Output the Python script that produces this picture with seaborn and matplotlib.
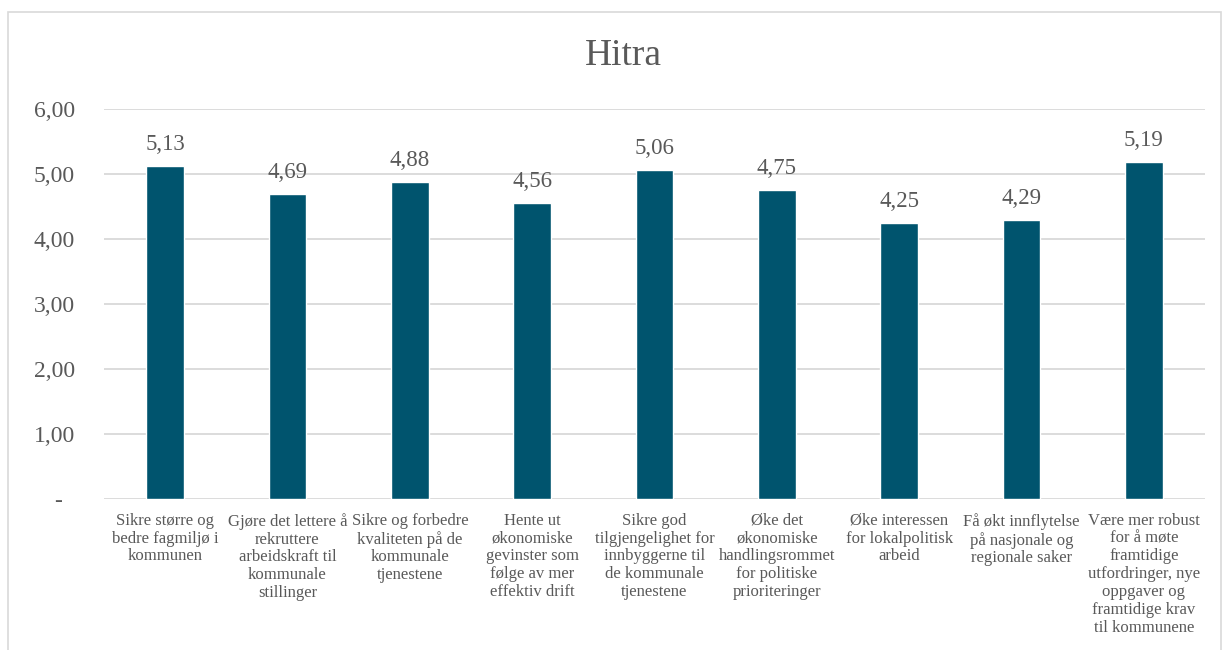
import matplotlib
matplotlib.use("Agg")
import matplotlib.pyplot as plt
import seaborn as sns
import pandas as pd
from matplotlib.patches import Rectangle

# Data
categories = [
    "Sikre større og\nbedre fagmiljø i\nkommunen",
    "Gjøre det lettere å\nrekruttere\narbeidskraft til\nkommunale\nstillinger",
    "Sikre og forbedre\nkvaliteten på de\nkommunale\ntjenestene",
    "Hente ut\nøkonomiske\ngevinster som\nfølge av mer\neffektiv drift",
    "Sikre god\ntilgjengelighet for\ninnbyggerne til\nde kommunale\ntjenestene",
    "Øke det\nøkonomiske\nhandlingsrommet\nfor politiske\nprioriteringer",
    "Øke interessen\nfor lokalpolitisk\narbeid",
    "Få økt innflytelse\npå nasjonale og\nregionale saker",
    "Være mer robust\nfor å møte\nframtidige\nutfordringer, nye\noppgaver og\nframtidige krav\ntil kommunene",
]
values = [5.13, 4.69, 4.88, 4.56, 5.06, 4.75, 4.25, 4.29, 5.19]
yticks = [0, 1, 2, 3, 4, 5, 6]
ytick_labels = ["-  ", "1,00", "2,00", "3,00", "4,00", "5,00", "6,00"]

df = pd.DataFrame({"kategori": categories, "verdi": values})

sns.set_style("white")
plt.rcParams["font.family"] = ["Liberation Serif", "DejaVu Serif"]
text_color = "#595959"
bar_color = "#00546E"

fig = plt.figure(figsize=(12.25, 6.5), dpi=100)
ax = fig.add_axes([104 / 1225, 1 - 499 / 650, (1205 - 104) / 1225, (499 - 109) / 650])

sns.barplot(data=df, x="kategori", y="verdi", color=bar_color, width=0.31,
            saturation=1, ax=ax)

ax.set_ylim(0, 6)
ax.set_xlim(-0.5, len(categories) - 0.5)
ax.set_yticks(yticks)
ax.set_yticklabels(ytick_labels, fontsize=17, color=text_color)
ax.set_xticks(range(len(categories)))
ax.set_xticklabels(categories, fontsize=12, color=text_color,
                   linespacing=1.15, va="top")
ax.tick_params(axis="both", length=0)
ax.tick_params(axis="y", pad=21)
ax.tick_params(axis="x", pad=10)
ax.set_xlabel("")
ax.set_ylabel("")
ax.grid(axis="y", color="#d9d9d9", linewidth=1.3)
ax.set_axisbelow(True)
for s in ax.spines.values():
    s.set_visible(False)

for i, v in enumerate(values):
    ax.text(i, v + 0.17, f"{v:.2f}".replace(".", ","), ha="center", va="bottom",
            fontsize=16.5, color=text_color)

fig.text(623 / 1225, 1 - 56 / 650, "Hitra", ha="center", va="center",
         fontsize=27, color=text_color)

# chart area border
fig.patches.append(Rectangle((8 / 1225, -0.1), (1221 - 8) / 1225, 1.1 - 12 / 650,
                             transform=fig.transFigure, fill=False,
                             edgecolor="#d9d9d9", linewidth=1.2))

fig.savefig("out.png", dpi=100)
